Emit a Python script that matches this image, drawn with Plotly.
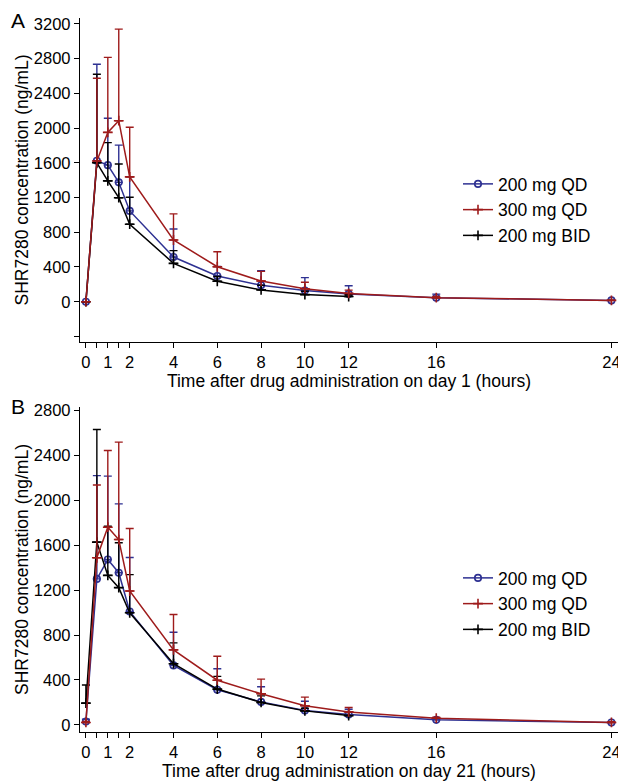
import plotly.graph_objects as go

# ---------------- data ----------------
times = [0, 0.5, 1, 1.5, 2, 4, 6, 8, 10, 12, 16, 24]
times_bid = [0, 0.5, 1, 1.5, 2, 4, 6, 8, 10, 12]

# Panel A: day 1 (mean and upper SD)
qd200_a = [0, 1623, 1573, 1375, 1046, 515, 296, 190, 129, 90, 45, 15]
qd200_a_sd = [0, 1112, 540, 429, 394, 323, 109, 167, 149, 94, 43, 3]
qd300_a = [0, 1620, 1950, 2085, 1438, 711, 403, 238, 150, 96, 46, 15]
qd300_a_sd = [0, 954, 864, 1055, 572, 301, 173, 112, 75, 38, 14, 3]
bid200_a = [0, 1600, 1392, 1198, 893, 442, 236, 136, 82, 60]
bid200_a_sd = [0, 1020, 440, 388, 310, 146, 54, 54, 38, 20]

# Panel B: day 21
qd200_b = [30, 1300, 1472, 1355, 1010, 530, 313, 205, 128, 92, 45, 21]
qd200_b_sd = [20, 919, 743, 613, 480, 295, 187, 135, 83, 48, 15, 4]
qd300_b = [22, 1488, 1760, 1650, 1192, 668, 398, 277, 170, 116, 60, 22]
qd300_b_sd = [8, 648, 683, 867, 557, 315, 213, 131, 77, 39, 9, 6]
bid200_b = [194, 1627, 1331, 1222, 998, 545, 319, 200, 125, 83]
bid200_b_sd = [161, 1003, 437, 400, 340, 185, 113, 59, 24, 35]

series_names = ["200 mg QD", "300 mg QD", "200 mg BID"]
x_tickvals = [0, 0.5, 1, 1.5, 2, 4, 6, 8, 10, 12, 16, 24]
x_ticktext = ["0", "", "1", "", "2", "4", "6", "8", "10", "12", "16", "24"]
ya_tickvals = [-400, 0, 400, 800, 1200, 1600, 2000, 2400, 2800, 3200]
ya_ticktext = ["", "0", "400", "800", "1200", "1600", "2000", "2400", "2800", "3200"]
yb_tickvals = [0, 400, 800, 1200, 1600, 2000, 2400, 2800]
yb_ticktext = ["0", "400", "800", "1200", "1600", "2000", "2400", "2800"]
xtitle_a = "Time after drug administration on day 1 (hours)"
xtitle_b = "Time after drug administration on day 21 (hours)"
ytitle = "SHR7280 concentration (ng/mL)"

# ---------------- style ----------------
FONT = "Liberation Sans, Arial, Helvetica, sans-serif"
BLUE = "#2e3192"
RED = "#9e1b1b"
BLACK = "#000000"
styles = {
    "200 mg QD": dict(color=BLUE, symbol="circle-open", size=6.5, rank=1),
    "300 mg QD": dict(color=RED, symbol="cross-thin-open", size=7, rank=2),
    "200 mg BID": dict(color=BLACK, symbol="cross-thin-open", size=7, rank=3),
}
# the page body has an 8px margin, so the figure is 8px smaller and all
# pixel positions are measured relative to that offset
W, H = 618, 773
OFF = 8


def px_x(p):
    return (p - OFF) / W


def px_y(p):
    return 1 - (p - OFF) / H


def add(fig, name, x, y, sd, xa, ya, legend):
    s = styles[name]
    fig.add_trace(go.Scatter(
        x=x, y=y, name=name, mode="lines+markers",
        xaxis=xa, yaxis=ya, legend=legend, legendrank=s["rank"],
        line=dict(color=s["color"], width=1.5),
        marker=dict(symbol=s["symbol"], size=s["size"], color=s["color"],
                    line=dict(color=s["color"], width=1.6)),
        error_y=dict(type="data", symmetric=False, array=sd,
                     arrayminus=[0] * len(sd), color=s["color"],
                     thickness=1.4, width=4),
    ))


fig = go.Figure()
# order: blue, black, red (red on top)
add(fig, "200 mg QD", times, qd200_a, qd200_a_sd, "x", "y", "legend")
add(fig, "200 mg BID", times_bid, bid200_a, bid200_a_sd, "x", "y", "legend")
add(fig, "300 mg QD", times, qd300_a, qd300_a_sd, "x", "y", "legend")
add(fig, "200 mg QD", times, qd200_b, qd200_b_sd, "x2", "y2", "legend2")
add(fig, "200 mg BID", times_bid, bid200_b, bid200_b_sd, "x2", "y2", "legend2")
add(fig, "300 mg QD", times, qd300_b, qd300_b_sd, "x2", "y2", "legend2")

xdom = [px_x(80), px_x(618)]
axis_common = dict(showgrid=False, zeroline=False, showline=True, linecolor="black",
                   linewidth=1.3, ticks="outside", ticklen=5, tickwidth=1.1,
                   tickcolor="black", tickfont=dict(family=FONT, size=16.5, color="black"),
                   automargin=False)

fig.update_layout(
    width=W, height=H,
    margin=dict(l=0, r=0, t=0, b=0),
    paper_bgcolor="white", plot_bgcolor="white",
    font=dict(family=FONT, color="black"),
    xaxis=dict(domain=xdom, range=[-0.27, 24.3], anchor="y",
               tickvals=x_tickvals, ticktext=x_ticktext,
               title=dict(text=xtitle_a, font=dict(size=17.5), standoff=4),
               **axis_common),
    yaxis=dict(domain=[px_y(342), px_y(18)], range=[-464, 3268], anchor="x",
               tickvals=ya_tickvals, ticktext=ya_ticktext,
               title=dict(text=ytitle, font=dict(size=17.5), standoff=0),
               **axis_common),
    xaxis2=dict(domain=xdom, range=[-0.27, 24.3], anchor="y2",
                tickvals=x_tickvals, ticktext=x_ticktext,
                title=dict(text=xtitle_b, font=dict(size=17.5), standoff=4),
                **axis_common),
    yaxis2=dict(domain=[px_y(732), px_y(407)], range=[-63, 2830], anchor="x2",
                tickvals=yb_tickvals, ticktext=yb_ticktext,
                title=dict(text=ytitle, font=dict(size=17.5), standoff=0),
                **axis_common),
    legend=dict(x=px_x(458), y=px_y(166), xanchor="left", yanchor="top",
                bgcolor="rgba(0,0,0,0)", font=dict(family=FONT, size=17.5),
                tracegroupgap=0, itemwidth=30),
    legend2=dict(x=px_x(458), y=px_y(560), xanchor="left", yanchor="top",
                 bgcolor="rgba(0,0,0,0)", font=dict(family=FONT, size=17.5),
                 tracegroupgap=0, itemwidth=30),
    showlegend=True,
    annotations=[
        dict(text="A", x=px_x(9), y=px_y(7), xref="paper", yref="paper",
             xanchor="left", yanchor="top", showarrow=False,
             font=dict(family=FONT, size=21, color="black")),
        dict(text="B", x=px_x(9), y=px_y(393), xref="paper", yref="paper",
             xanchor="left", yanchor="top", showarrow=False,
             font=dict(family=FONT, size=21, color="black")),
    ],
)

fig.write_html("out.html")
